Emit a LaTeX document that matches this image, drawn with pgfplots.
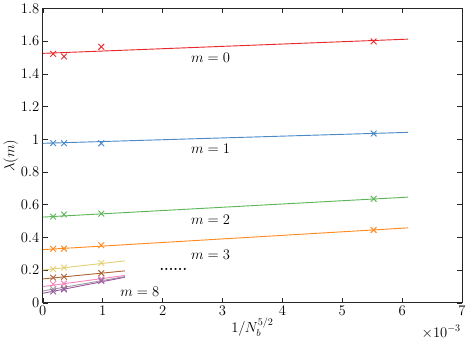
\documentclass[border=0pt]{standalone}
\usepackage{pgfplots}
\pgfplotsset{compat=1.18}
\definecolor{cM0}{HTML}{E8282B}
\definecolor{cM1}{HTML}{4A89C6}
\definecolor{cM2}{HTML}{5DB558}
\definecolor{cM3}{HTML}{FF8A1E}
\definecolor{cM4}{HTML}{E2D074}
\definecolor{cM5}{HTML}{AD6437}
\definecolor{cM6}{HTML}{F585C0}
\definecolor{cM7}{HTML}{9E9E9E}
\definecolor{cM8}{HTML}{9A58A6}
\begin{document}
\begin{tikzpicture}
\begin{axis}[
  scale only axis,
  width=413pt, height=290pt,
  xmin=0, xmax=7, ymin=0, ymax=1.8,
  xtick={0,1,...,7},
  ytick={0,0.2,...,1.8},
  yticklabels={0,0.2,0.4,0.6,0.8,1,1.2,1.4,1.6,1.8},
  tick label style={font=\Large},
  label style={font=\Large},
  tick align=inside,
  axis line style={line width=0.7pt, draw=black!85},
  tick style={line width=0.5pt, major tick length=5pt, draw=black!85},
  xlabel={$1/N_b^{5/2}$},
  ylabel={$\lambda(m)$},
  xlabel style={yshift=5pt},
  ylabel style={yshift=-4pt},
  every axis plot/.append style={line width=0.9pt},
  clip=false
]
% fitted lines
\addplot[cM0, no marks] coordinates {(0,1.525) (6.1,1.612)};
\addplot[cM1, no marks] coordinates {(0,0.975) (6.1,1.042)};
\addplot[cM2, no marks] coordinates {(0,0.524) (6.1,0.646)};
\addplot[cM3, no marks] coordinates {(0,0.325) (6.1,0.458)};
\addplot[cM4, no marks] coordinates {(0,0.200) (1.37,0.256)};
\addplot[cM5, no marks] coordinates {(0,0.146) (1.37,0.195)};
\addplot[cM6, no marks] coordinates {(0,0.099) (1.37,0.167)};
\addplot[cM7, no marks] coordinates {(0,0.072) (1.37,0.160)};
\addplot[cM8, no marks] coordinates {(0,0.058) (1.37,0.156)};
% data points
\addplot[cM0, only marks, mark=x, mark size=4pt] coordinates {(0.173,1.522) (0.354,1.506) (0.977,1.565) (5.524,1.598)};
\addplot[cM1, only marks, mark=x, mark size=4pt] coordinates {(0.173,0.976) (0.354,0.976) (0.977,0.975) (5.524,1.035)};
\addplot[cM2, only marks, mark=x, mark size=4pt] coordinates {(0.173,0.527) (0.354,0.540) (0.977,0.545) (5.524,0.636)};
\addplot[cM3, only marks, mark=x, mark size=4pt] coordinates {(0.173,0.330) (0.354,0.331) (0.977,0.352) (5.524,0.445)};
\addplot[cM4, only marks, mark=x, mark size=4pt] coordinates {(0.173,0.206) (0.354,0.216) (0.977,0.243)};
\addplot[cM5, only marks, mark=x, mark size=4pt] coordinates {(0.173,0.154) (0.354,0.159) (0.977,0.181)};
\addplot[cM6, only marks, mark=x, mark size=4pt] coordinates {(0.173,0.114) (0.354,0.117) (0.977,0.146)};
\addplot[cM7, only marks, mark=x, mark size=4pt] coordinates {(0.173,0.083) (0.354,0.089) (0.977,0.138)};
\addplot[cM8, only marks, mark=x, mark size=4pt] coordinates {(0.173,0.069) (0.354,0.082) (0.977,0.134)};
% labels
\node[font=\Large] at (axis cs:2.8,1.50) {$m=0$};
\node[font=\Large] at (axis cs:2.8,0.94) {$m=1$};
\node[font=\Large] at (axis cs:2.8,0.505) {$m=2$};
\node[font=\Large] at (axis cs:2.8,0.294) {$m=3$};
\node[font=\Large\bfseries] at (axis cs:2.18,0.205) {......};
\node[font=\Large] at (axis cs:1.62,0.066) {$m=8$};
\node[anchor=north east, inner sep=1pt, font=\Large] at ([yshift=-21pt]rel axis cs:1,0) {$\times10^{-3}$};
\end{axis}
\end{tikzpicture}
\end{document}
